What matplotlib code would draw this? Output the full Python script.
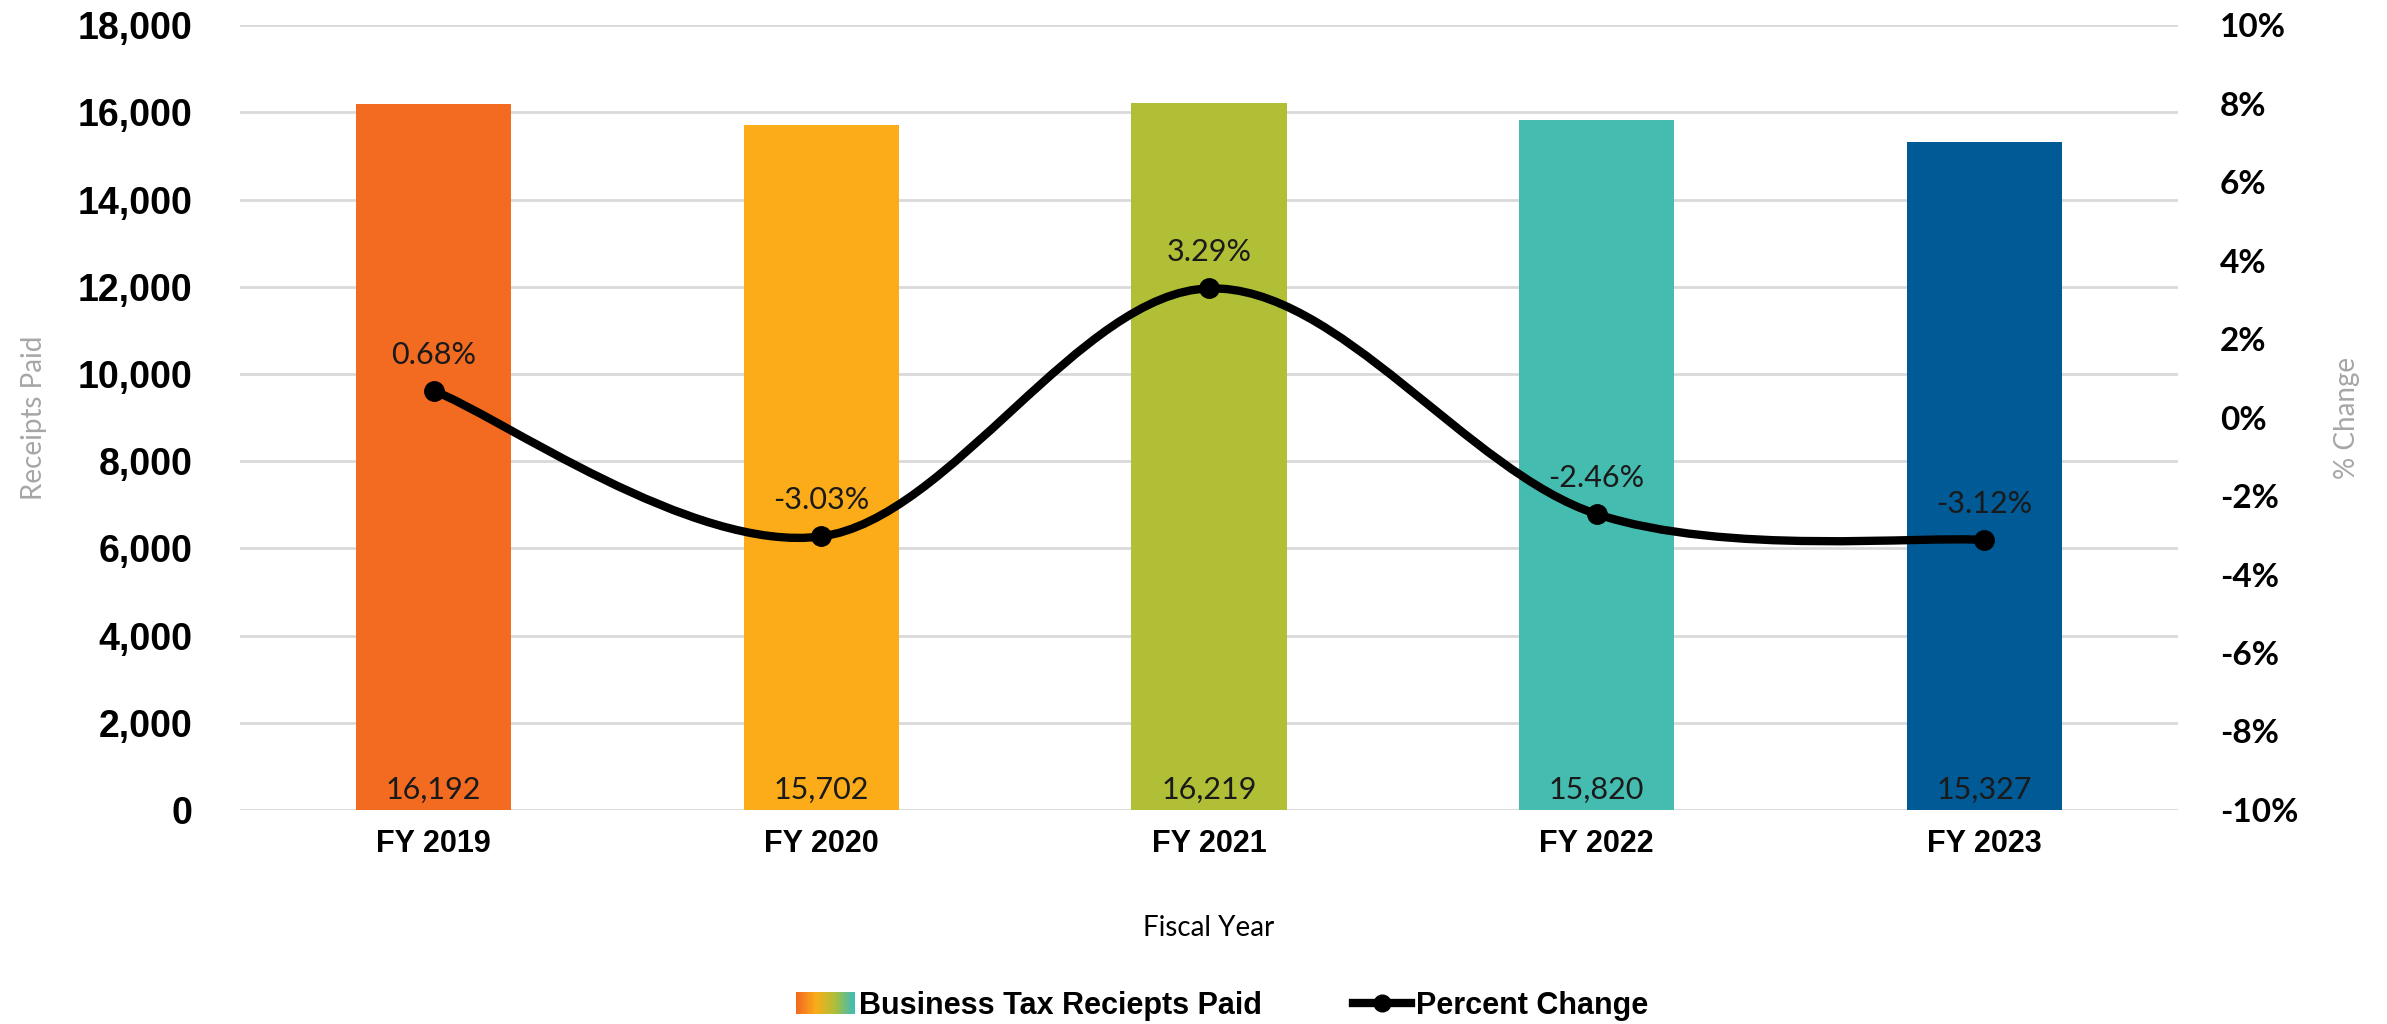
import matplotlib
matplotlib.use("Agg")
import matplotlib.pyplot as plt
import numpy as np
from matplotlib.path import Path
from matplotlib.patches import PathPatch, Rectangle
from matplotlib.legend_handler import HandlerBase
from matplotlib.lines import Line2D
from matplotlib.colors import LinearSegmentedColormap
from matplotlib.ticker import FuncFormatter

years = ["FY 2019", "FY 2020", "FY 2021", "FY 2022", "FY 2023"]
receipts = [16192, 15702, 16219, 15820, 15327]
pct_change = [0.68, -3.03, 3.29, -2.46, -3.12]
bar_colors = ["#F26B21", "#FBAC18", "#B0BF36", "#45BCB0", "#005A96"]

narrow = ["Liberation Sans Narrow", "Liberation Sans", "DejaVu Sans"]

fig = plt.figure(figsize=(23.87, 10.24), dpi=100)
ax = fig.add_axes([0.1005, 0.209, 0.812, 0.7665])
ax2 = ax.twinx()

x = np.arange(len(years))
ax.bar(x, receipts, width=0.40, color=bar_colors, zorder=2)
for xi, v in zip(x, receipts):
    ax.text(xi, 150, f"{v:,}", ha="center", va="bottom", fontsize=22,
            family="Lato", color="#1a1a1a", zorder=3)

ax.set_xlim(-0.5, len(years) - 0.5)
ax.set_ylim(0, 18000)
ax.set_yticks(range(0, 18001, 2000))
ax.yaxis.set_major_formatter(FuncFormatter(lambda v, p: f"{int(v):,}"))
ax.grid(axis="y", color="#D9D9D9", linewidth=2, zorder=0)
ax.set_axisbelow(True)
ax.set_xticks(x)
ax.set_xticklabels(years, family=narrow, fontweight="bold", fontsize=22)
for lab in ax.get_yticklabels():
    lab.set_family("Liberation Sans")
    lab.set_fontweight("bold")
    lab.set_fontsize(27)
ax.tick_params(axis="both", length=0)
ax.tick_params(axis="y", pad=34)
ax.tick_params(axis="x", pad=14)
for s in ax.spines.values():
    s.set_visible(False)
for s in ax2.spines.values():
    s.set_visible(False)

ax.set_ylabel("Receipts Paid", fontsize=20, color="#A6A6A6", family="Lato", labelpad=22)
ax.set_xlabel("Fiscal Year", fontsize=20, family="Lato", labelpad=40)

# percent change line, smoothed like the spreadsheet (Bezier through the points)
ax2.set_ylim(-10, 10)
ax2.set_yticks(range(-10, 11, 2))
ax2.yaxis.set_major_formatter(FuncFormatter(lambda v, p: f"{int(v)}%"))
for lab in ax2.get_yticklabels():
    lab.set_family("Lato")
    lab.set_fontweight("bold")
    lab.set_fontsize(24)
ax2.tick_params(axis="y", length=0, pad=30)
ax2.set_ylabel("% Change", fontsize=20, color="#A6A6A6", family="Lato", labelpad=26)

pts = np.column_stack([x, pct_change]).astype(float)
verts = [pts[0]]
codes = [Path.MOVETO]
n = len(pts)
for i in range(n - 1):
    p0 = pts[max(i - 1, 0)]
    p1 = pts[i]
    p2 = pts[i + 1]
    p3 = pts[min(i + 2, n - 1)]
    verts += [p1 + (p2 - p0) / 6, p2 - (p3 - p1) / 6, p2]
    codes += [Path.CURVE4] * 3
ax2.add_patch(PathPatch(Path(verts, codes), facecolor="none", edgecolor="black",
                        linewidth=6, zorder=4))
ax2.plot(x, pct_change, linestyle="none", marker="o", markersize=14,
         color="black", zorder=5)
for xi, v in zip(x, pct_change):
    ax2.annotate(f"{v:.2f}%", (xi, v), xytext=(0, 16), textcoords="offset points",
                 ha="center", va="bottom", fontsize=22, family="Lato", color="#1a1a1a")


class GradientHandler(HandlerBase):
    def create_artists(self, legend, orig_handle, xdescent, ydescent, width,
                       height, fontsize, trans):
        cmap = LinearSegmentedColormap.from_list("g", bar_colors[:4])
        k = 24
        arts = []
        for j in range(k):
            r = Rectangle((-xdescent + width * j / k, -ydescent), width / k + 0.3,
                          height, facecolor=cmap(j / (k - 1)), edgecolor="none",
                          transform=trans)
            arts.append(r)
        return arts


bar_handle = Rectangle((0, 0), 1, 1)
line_handle = Line2D([], [], color="black", linewidth=6, marker="o", markersize=12)
leg = fig.legend([bar_handle, line_handle],
                 ["Business Tax Reciepts Paid", "Percent Change"],
                 handler_map={Rectangle: GradientHandler()},
                 loc="center", bbox_to_anchor=(0.512, 0.018), ncol=2,
                 frameon=False, handlelength=1.9, handletextpad=0.15,
                 columnspacing=3.0,
                 prop={"family": narrow, "weight": "bold", "size": 22})

fig.savefig("out.png", dpi=100)
